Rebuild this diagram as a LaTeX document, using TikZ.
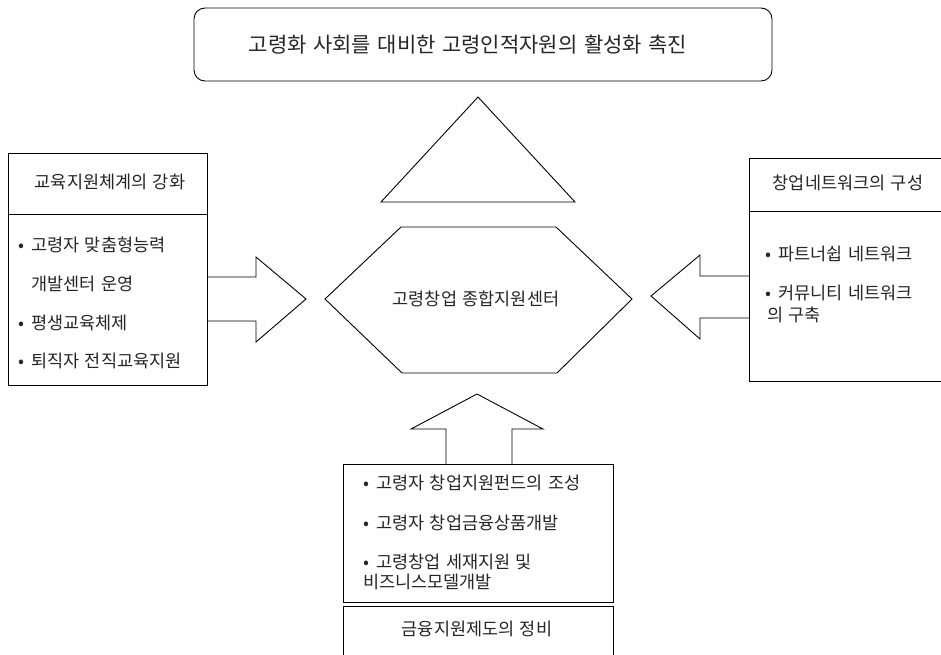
\documentclass[tikz,border=0pt]{standalone}
\usepackage{fontspec}
\setmainfont{Noto Sans CJK KR}[WordSpace=1.4]
\begin{document}
\begin{tikzpicture}[x=1pt,y=-1pt,
  shape line/.style={draw=black, line width=0.9pt, line join=miter},
  txt/.style={inner sep=0pt, text=black!85, font=\fontsize{17.5}{20}\selectfont},
  lefttxt/.style={txt, anchor=west},
  titletxt/.style={inner sep=0pt, text=black!85, font=\fontsize{21}{24}\selectfont}]
\clip (0,0) rectangle (941,654);
\fill[white] (0,0) rectangle (941,654);
\newcommand{\bul}{\makebox[13pt][l]{•}}
% title box
\draw[shape line, rounded corners=11pt] (194,8) rectangle (772,81);
\node[titletxt] (title) at (468,45) {고령화 사회를 대비한 고령인적자원의 활성화 촉진};
% triangle
\coordinate (tA) at (478,97);
\coordinate (tB) at (381,202);
\coordinate (tC) at (575,202);
\draw[shape line] (tA) -- (tB) -- (tC) -- cycle;
% hexagon
\coordinate (h1) at (401,227);
\coordinate (h2) at (556,227);
\coordinate (h3) at (632,299);
\coordinate (h4) at (557,373);
\coordinate (h5) at (402,373);
\coordinate (h6) at (325,299);
\draw[shape line] (h1) -- (h2) -- (h3) -- (h4) -- (h5) -- (h6) -- cycle;
\node[txt] (center) at (476,299) {고령창업 종합지원센터};
% left box
\draw[shape line] (8,153) rectangle (207,385);
\draw[shape line] (8,214) -- (207,214);
\node[txt] (ltitle) at (110,182) {교육지원체계의 강화};
\node[lefttxt] (l1) at (18,245) {\bul 고령자 맞춤형능력};
\node[lefttxt] (l2) at (31,284) {개발센터 운영};
\node[lefttxt] (l3) at (18,323) {\bul 평생교육체제};
\node[lefttxt] (l4) at (18,361) {\bul 퇴직자 전직교육지원};
% left arrow
\draw[shape line] (207,277) -- (256,277) -- (256,257) -- (306,299) -- (256,342) -- (256,321) -- (207,321);
% right box
\draw[shape line] (749,158) rectangle (950,381);
\draw[shape line] (749,211) -- (950,211);
\node[txt] (rtitle) at (848,183) {창업네트워크의 구성};
\node[lefttxt] (r1) at (765,254) {\bul 파트너쉽 네트워크};
\node[lefttxt] (r2) at (765,293) {\bul 커뮤니티 네트워크};
\node[lefttxt] (r3) at (767,315) {의 구축};
% right arrow
\draw[shape line] (749,276) -- (700,276) -- (700,255) -- (651,296) -- (700,339) -- (700,318) -- (749,318);
% bottom arrow
\draw[shape line] (446,464) -- (446,429) -- (411,429) -- (477,394) -- (543,429) -- (512,429) -- (512,464);
% bottom box
\draw[shape line] (343,464) rectangle (613,602);
\node[lefttxt] (b1) at (363,483) {\bul 고령자 창업지원펀드의 조성};
\node[lefttxt] (b2) at (363,523) {\bul 고령자 창업금융상품개발};
\node[lefttxt] (b3) at (363,562) {\bul 고령창업 세재지원 및};
\node[lefttxt] (b4) at (363,582) {비즈니스모델개발};
% finance box
\draw[shape line] (343,606) rectangle (613,670);
\node[txt] (btitle) at (477,629) {금융지원제도의 정비};
\end{tikzpicture}
\end{document}
